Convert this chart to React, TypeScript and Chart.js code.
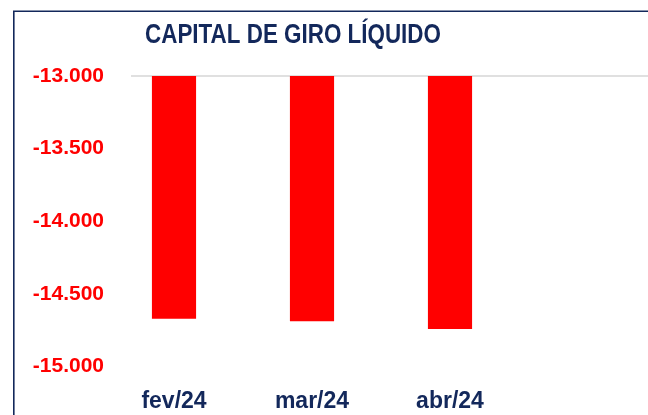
import React, { useEffect, useRef } from "react";
import { Chart, registerables } from "chart.js";

Chart.register(...registerables);

const categories = ["fev/24", "mar/24", "abr/24"];
const values = [-14671, -14689, -14742];
const yMin = -15000;
const yMax = -13000;
const yStep = 500;
const title = "CAPITAL DE GIRO LÍQUIDO";

const NAVY = "#13285b";
const RED = "#ff0000";

const fmt = (v: number) => {
  const s = Math.abs(v).toString().replace(/\B(?=(\d{3})+(?!\d))/g, ".");
  return (v < 0 ? "-" : "") + s;
};

export default function App() {
  const ref = useRef<HTMLCanvasElement | null>(null);
  useEffect(() => {
    if (!ref.current) return;
    const decor = {
      id: "decor",
      beforeDraw(chart: any) {
        const ctx = chart.ctx;
        ctx.save();
        ctx.fillStyle = "#ffffff";
        ctx.fillRect(0, 0, chart.width, chart.height);
        ctx.strokeStyle = NAVY;
        ctx.lineWidth = 1.6;
        ctx.beginPath();
        ctx.moveTo(13.8, chart.height + 2);
        ctx.lineTo(13.8, 11.2);
        ctx.lineTo(chart.width + 2, 11.2);
        ctx.stroke();
        // top gridline
        const y = chart.scales.y.getPixelForValue(yMax);
        ctx.strokeStyle = "#d6d6d6";
        ctx.lineWidth = 1.5;
        ctx.beginPath();
        ctx.moveTo(131, y);
        ctx.lineTo(chart.width, y);
        ctx.stroke();
        // title
        ctx.fillStyle = NAVY;
        ctx.font = "bold 27px 'Liberation Sans', Arial, sans-serif";
        ctx.textAlign = "center";
        ctx.textBaseline = "middle";
        ctx.translate(293, 36);
        ctx.scale(0.83, 1);
        ctx.fillText(title, 0, 0);
        ctx.restore();
      },
    };
    const chart = new Chart(ref.current, {
      type: "bar",
      data: {
        labels: categories,
        datasets: [
          {
            data: values,
            base: yMax,
            backgroundColor: RED,
            borderWidth: 0,
            barPercentage: 0.32,
            categoryPercentage: 1,
          } as any,
        ],
      },
      options: {
        animation: false,
        responsive: false,
        maintainAspectRatio: false,
        layout: { padding: { top: 76, right: 129, left: 0, bottom: 0 } },
        plugins: { legend: { display: false }, tooltip: { enabled: false }, title: { display: false } },
        scales: {
          x: {
            grid: { display: false, drawTicks: false },
            border: { display: false },
            afterFit: (s: any) => {
              s.height = 48.5;
            },
            ticks: {
              color: NAVY,
              padding: 21,
              font: { family: "'Liberation Sans', Arial, sans-serif", size: 23, weight: "bold" },
            },
          },
          y: {
            min: yMin,
            max: yMax,
            grid: { display: false, drawTicks: false },
            border: { display: false },
            afterFit: (s: any) => {
              s.width = 105;
            },
            ticks: {
              stepSize: yStep,
              color: RED,
              padding: 1,
              callback: (v: any) => fmt(Number(v)),
              font: { family: "'Liberation Sans', Arial, sans-serif", size: 21, weight: "bold" },
            },
          },
        },
      },
      plugins: [decor],
    });
    return () => chart.destroy();
  }, []);
  return (
    <div style={{ position: "fixed", left: 0, top: 0, width: 648, height: 415, background: "#fff" }}>
      <canvas ref={ref} width={648} height={415} style={{ width: 648, height: 415, display: "block" }} />
    </div>
  );
}
